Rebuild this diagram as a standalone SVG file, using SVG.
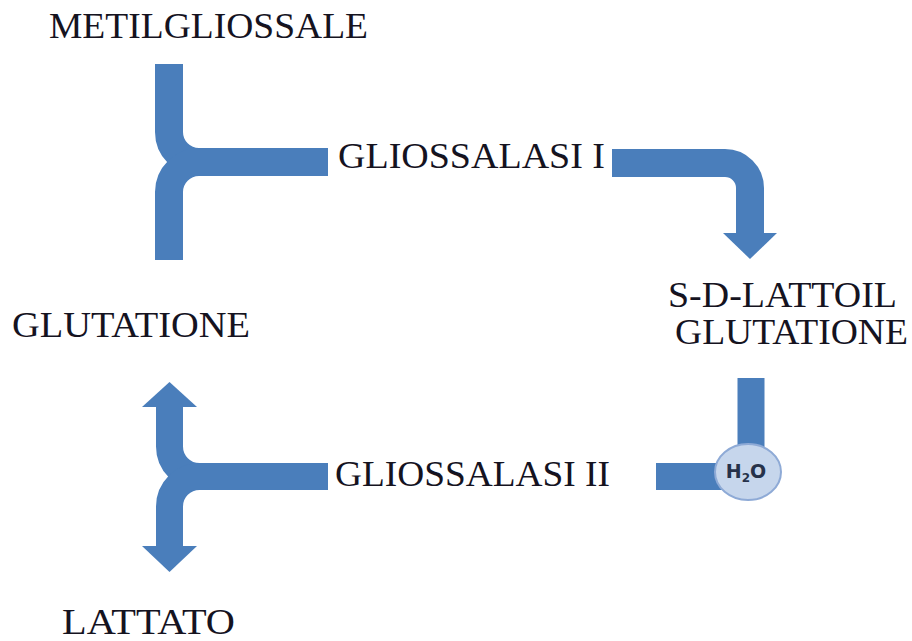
<svg xmlns="http://www.w3.org/2000/svg" width="912" height="641" viewBox="0 0 912 641">
  <style>
    .bar { fill: none; stroke: #4a7ebb; stroke-width: 28; stroke-linecap: butt; stroke-linejoin: miter; }
    .head { fill: #4a7ebb; }
    .lbl { font-family: "Liberation Serif", "Times New Roman", serif; font-size: 35px; fill: #15131f; }
    .h2o { font-family: "DejaVu Sans", "Liberation Sans", sans-serif; font-weight: bold; font-size: 19px; fill: #26324a; }
  </style>
  <rect width="912" height="641" fill="#ffffff"/>

  <g id="connectors">
    <!-- methylglyoxal + glutathione merge into glyoxalase I -->
    <path class="bar" d="M169,64 V132 A30,30 0 0 0 199,162 H328"/>
    <path class="bar" d="M169,260 V192 A30,30 0 0 1 199,162 H328"/>
    <!-- glyoxalase I to S-D-lactoylglutathione -->
    <path class="bar" d="M612,163 H725 A25,25 0 0 1 750,188 V234"/>
    <polygon class="head" points="723,233 777,233 750,259"/>
    <!-- S-D-lactoylglutathione + water to glyoxalase II -->
    <path class="bar" style="stroke-width:27" d="M751,378 V476.5 H656"/>
    <!-- glyoxalase II splits into glutathione and lactate -->
    <path class="bar" style="stroke-width:27" d="M169.5,406 V446.5 A30,30 0 0 0 199.5,476.5 H328"/>
    <path class="bar" style="stroke-width:27" d="M169.5,547 V506.5 A30,30 0 0 1 199.5,476.5 H328"/>
    <polygon class="head" points="142,407 197,407 169.5,382"/>
    <polygon class="head" points="142,546 197,546 169.5,572"/>
  </g>

  <g id="water">
    <ellipse cx="748" cy="472" rx="33" ry="28" fill="#c6d6ec" stroke="#8eaad6" stroke-width="2"/>
    <text class="h2o" x="746" y="478" text-anchor="middle">H<tspan font-size="12" dy="4">2</tspan><tspan dy="-4">O</tspan></text>
  </g>

  <g id="metilgliossale">
    <text class="lbl" x="49" y="38" textLength="319" lengthAdjust="spacingAndGlyphs">METILGLIOSSALE</text>
  </g>
  <g id="gliossalasi-1">
    <text class="lbl" x="338" y="168" textLength="267" lengthAdjust="spacingAndGlyphs">GLIOSSALASI I</text>
  </g>
  <g id="glutatione">
    <text class="lbl" x="12" y="337" textLength="238" lengthAdjust="spacingAndGlyphs">GLUTATIONE</text>
  </g>
  <g id="lattoil-glutatione">
    <text class="lbl" x="668" y="307" textLength="229" lengthAdjust="spacingAndGlyphs">S-D-LATTOIL</text>
    <text class="lbl" x="675" y="344" textLength="233" lengthAdjust="spacingAndGlyphs">GLUTATIONE</text>
  </g>
  <g id="gliossalasi-2">
    <text class="lbl" x="335" y="486" textLength="275" lengthAdjust="spacingAndGlyphs">GLIOSSALASI II</text>
  </g>
  <g id="lattato">
    <text class="lbl" x="62" y="634" textLength="173" lengthAdjust="spacingAndGlyphs">LATTATO</text>
  </g>
</svg>
